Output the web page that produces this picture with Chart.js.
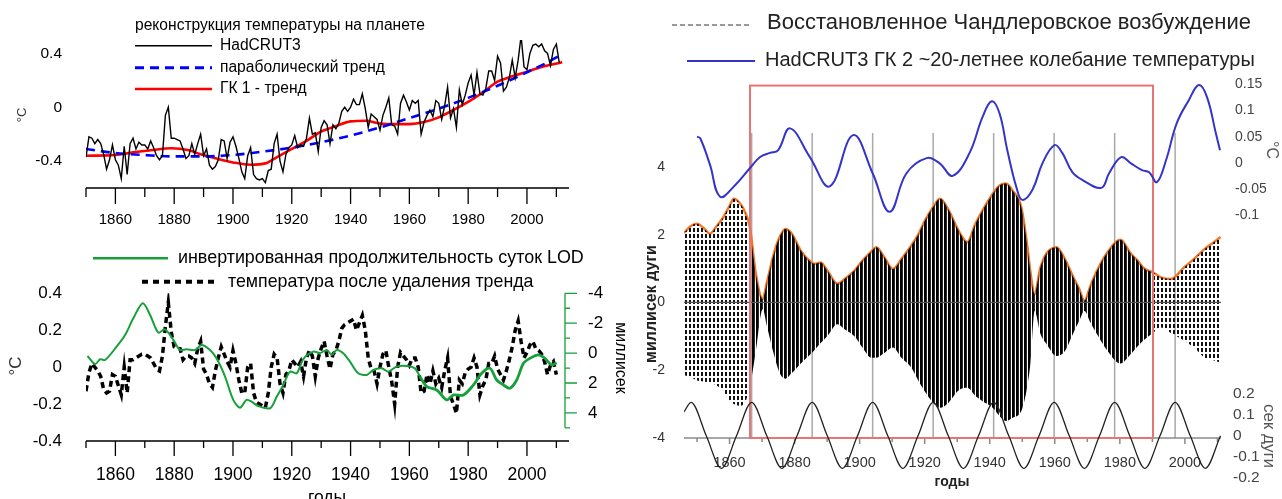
<!DOCTYPE html>
<html>
<head>
<meta charset="utf-8">
<script src="https://cdn.jsdelivr.net/npm/chart.js@4.4.1/dist/chart.umd.min.js"></script>
<style>
html, body { margin: 0; padding: 0; background: #fff; }
#wrap { position: relative; width: 1282px; height: 499px; overflow: hidden; }
#wrap canvas { position: absolute; left: 0; top: 0; }
</style>
</head>
<body>
<div id="wrap">
  <canvas id="temp" width="1282" height="499"></canvas>
  <canvas id="lod" width="1282" height="499"></canvas>
  <canvas id="chandler" width="1282" height="499"></canvas>
  <canvas id="nodal" width="1282" height="499"></canvas>
  <canvas id="pc2" width="1282" height="499"></canvas>
</div>
<script>
// ---------- top left: temperature reconstruction ----------
var hadYears = Array.from({length: 162}, function (_, i) { return 1850 + i; });
var hadTemp = [
  -0.37,-0.22,-0.23,-0.27,-0.24,-0.27,-0.35,-0.46,-0.39,-0.28,
  -0.39,-0.43,-0.53,-0.29,-0.50,-0.27,-0.23,-0.31,-0.26,-0.28,
  -0.28,-0.31,-0.25,-0.30,-0.36,-0.39,-0.36,-0.06,0.00,-0.23,
  -0.23,-0.24,-0.25,-0.31,-0.38,-0.36,-0.27,-0.35,-0.27,-0.20,
  -0.36,-0.31,-0.43,-0.46,-0.44,-0.39,-0.24,-0.25,-0.38,-0.26,
  -0.22,-0.29,-0.38,-0.48,-0.53,-0.36,-0.30,-0.50,-0.53,-0.54,
  -0.53,-0.56,-0.47,-0.46,-0.27,-0.20,-0.40,-0.48,-0.35,-0.30,
  -0.28,-0.21,-0.30,-0.28,-0.29,-0.23,-0.08,-0.20,-0.19,-0.33,
  -0.15,-0.10,-0.13,-0.27,-0.13,-0.16,-0.12,-0.03,0.00,-0.03,
  0.00,0.06,0.02,0.02,0.10,-0.01,-0.15,-0.05,-0.07,-0.09,
  -0.17,-0.06,0.00,0.07,-0.13,-0.14,-0.20,0.03,0.09,0.04,
  -0.02,0.05,0.03,0.05,-0.20,-0.11,-0.06,-0.02,-0.07,0.05,
  0.03,-0.09,0.01,0.15,-0.08,-0.01,-0.15,0.13,0.02,0.09,
  0.18,0.24,0.09,0.26,0.10,0.09,0.14,0.27,0.27,0.20,
  0.38,0.33,0.12,0.15,0.22,0.35,0.22,0.35,0.53,0.30,
  0.28,0.40,0.46,0.47,0.45,0.47,0.42,0.40,0.31,0.43,
  0.47,0.33
];
var parabYears = [1850,1860,1870,1880,1890,1900,1910,1920,1930,1940,1950,1960,1970,1980,1990,2000,2010,2012];
var parabTemp = [-0.31,-0.34,-0.355,-0.365,-0.365,-0.355,-0.33,-0.30,-0.26,-0.21,-0.15,-0.08,-0.01,0.07,0.16,0.26,0.37,0.40];
var pc1Years = [1850,1860,1866,1872,1879,1885,1889,1895,1900,1906,1911,1915,1920,1925,1930,1935,1940,1945,1950,1955,1960,1965,1970,1975,1980,1985,1990,1995,2000,2005,2012];
var pc1Temp = [-0.36,-0.355,-0.335,-0.32,-0.305,-0.32,-0.35,-0.385,-0.41,-0.427,-0.417,-0.37,-0.31,-0.25,-0.18,-0.14,-0.105,-0.10,-0.12,-0.125,-0.125,-0.11,-0.075,-0.02,0.04,0.11,0.19,0.23,0.265,0.30,0.335];

// ---------- bottom left: LOD and detrended temperature ----------
var lodYears = [1850.5,1853.1,1854.8,1856.5,1860.4,1863.3,1866.1,1869.3,1871.8,1874.6,
  1876.9,1879.7,1882,1884.2,1887.1,1889.3,1892.2,1894.4,1897.3,1900.1,
  1902.4,1904.6,1906.3,1908.6,1912.6,1914.9,1917.1,1919.4,1921.7,1923.9,
  1927.3,1929.6,1931.9,1933.6,1935.3,1937.5,1939.8,1942.6,1945.5,1947.7,
  1950.6,1952.8,1955.7,1959.1,1961.9,1963.6,1965.9,1969.3,1972.7,1975,
  1978.4,1981.8,1984.6,1987.4,1989.7,1992,1994.2,1996.5,1998.8,2001,
  2003.9,2006.1,2008.4,2010.1];
var lodMs = [0.19,0.73,0.41,0.46,-0.43,-1.21,-2.33,-3.33,-2.55,-1.37,
  -1.59,-0.88,-0.21,-0.25,-0.21,-0.54,-0.21,0.35,1.57,3.13,
  3.65,3.13,3.25,3.54,3.69,2.91,2.13,1.24,1.35,0.40,
  -0.10,0.0,-0.21,0.12,-0.21,0.01,0.57,1.35,1.46,1.13,
  1.02,1.24,0.90,0.86,1.02,1.57,2.24,2.47,3.13,2.8,
  2.8,2.13,1.35,1.02,1.8,2.13,2.35,1.8,0.68,0.35,
  0.12,0.35,0.79,0.64];
var detYears = Array.from({length: 161}, function (_, i) { return 1850 + i; });
var detTemp = [
  -0.13,-0.03,0.02,0.00,-0.02,-0.05,-0.12,-0.14,-0.13,-0.04,
  -0.05,-0.10,-0.15,0.00,-0.14,0.04,0.04,0.05,0.06,0.07,
  0.07,0.06,0.05,0.02,-0.01,-0.02,0.06,0.22,0.35,0.19,
  0.11,0.10,0.10,0.04,0.06,0.06,0.05,0.02,0.10,0.14,
  -0.01,-0.04,-0.09,-0.11,-0.02,0.05,0.11,0.07,0.03,0.00,
  0.09,0.02,-0.07,-0.14,-0.14,0.00,0.02,-0.14,-0.19,-0.20,
  -0.21,-0.22,-0.14,0.00,0.07,0.05,-0.09,-0.14,-0.04,-0.02,
  0.04,0.02,0.00,0.03,-0.05,0.05,0.09,0.06,-0.05,0.05,
  0.10,0.14,0.06,-0.01,0.07,0.09,0.14,0.21,0.23,0.24,
  0.25,0.26,0.20,0.24,0.28,0.20,0.05,-0.01,-0.02,-0.09,
  0.00,0.07,0.09,0.00,-0.08,-0.20,0.00,0.08,0.06,0.04,
  0.01,0.05,0.05,0.00,-0.14,-0.13,-0.04,-0.09,-0.02,-0.09,
  -0.06,-0.11,-0.02,0.05,-0.16,-0.20,-0.25,-0.07,-0.09,-0.03,
  -0.01,0.00,0.05,0.00,-0.15,-0.10,-0.07,0.02,0.02,0.06,
  -0.01,-0.04,-0.07,-0.02,0.04,0.11,0.20,0.25,0.14,0.05,
  0.08,0.12,0.14,0.10,0.09,0.07,0.03,-0.04,0.01,0.03,
  -0.04
];

// ---------- right: Chandler excitation ----------
var envYears = [1846,1848,1850,1852,1854,1856,1858,1860,1861.3,1863,
  1864.5,1866.3,1868,1870.2,1871.5,1873.6,1875.5,1877.2,1879,1881.9,
  1884.9,1886,1888,1890,1893.2,1895.5,1898.4,1901,1903.6,1905.1,
  1907.5,1910.2,1913,1915.9,1918,1920,1922.5,1924.7,1927.4,1930.4,
  1933.1,1935.5,1937.7,1940.9,1943,1945,1947,1949.7,1951.5,1952.5,
  1953.8,1955.5,1957.5,1960.5,1963,1965.7,1967.5,1969.1,1971,1973,
  1976,1980.2,1983.3,1985.4,1987.5,1990.2,1992.6,1995.7,1999.8,2003,
  2006.1,2008.5,2011];
var envUpper = [2.05,2.25,2.32,2.2,2.03,2.25,2.5,2.85,3.06,2.95,
  2.72,2.2,0.9,0.1,0.6,1.43,1.95,2.17,2.05,1.53,
  1.2,1.14,1.18,0.95,0.55,0.7,0.94,1.25,1.5,1.63,
  1.35,0.99,1.3,1.68,2.0,2.4,2.8,3.06,2.72,2.12,
  1.78,2.3,2.7,3.2,3.45,3.51,3.3,2.81,1.7,0.9,
  0.25,1.0,1.45,1.63,1.3,0.74,0.4,0.05,0.5,0.94,
  1.45,1.85,1.45,1.24,1.0,0.89,0.74,0.69,1.04,1.3,
  1.58,1.75,1.93];
var envLower = [-2.15,-2.2,-2.3,-2.33,-2.37,-2.45,-2.6,-2.9,-3.0,-3.05,
  -3.0,-2.5,-1.5,-0.2,-0.7,-1.52,-2.1,-2.25,-2.1,-1.8,
  -1.53,-1.42,-1.2,-1.0,-0.64,-0.8,-1.0,-1.35,-1.63,-1.63,
  -1.5,-1.33,-1.65,-1.93,-2.3,-2.62,-2.95,-3.11,-2.95,-2.6,
  -2.52,-2.75,-2.91,-3.11,-3.35,-3.5,-3.4,-3.2,-2.5,-1.8,
  -0.25,-0.9,-1.23,-1.58,-1.45,-0.9,-0.55,-0.25,-0.6,-0.94,
  -1.4,-1.8,-1.53,-1.3,-1.1,-0.9,-0.74,-0.9,-1.13,-1.35,
  -1.63,-1.7,-1.78];
var boxYears = [1866.3, 1990.2];
var boxTopMs = 6.4;
var nodalYears = [1866.8,1885.4,1904.0,1922.6,1941.2,1959.8,1978.4,1997.0];

var pc2Years = [1850,1851,1854,1857.1,1861.7,1866.3,1869.4,1872.4,1874.9,1878.6,
  1884.7,1890.8,1898,1904,1909.2,1914.4,1920.6,1924.6,1928.6,1933.8,
  1937.8,1940.6,1943,1945.4,1948.2,1950,1953.1,1956.2,1959.9,1962.3,
  1965.4,1968.5,1974.3,1976.7,1980.4,1983.4,1986.8,1989,1991.4,1994.2,
  1997.5,2001.2,2004.3,2006.8,2009.5,2010.8];
var pc2Temp = [0.050,0.047,-0.004,-0.065,-0.043,-0.010,0.011,0.019,0.024,0.066,
  0.011,-0.045,0.053,-0.020,-0.094,-0.020,0.009,-0.001,-0.025,0.019,
  0.088,0.118,0.095,0.024,-0.047,-0.071,-0.052,-0.001,0.034,0.019,
  -0.018,-0.033,-0.048,-0.020,0.011,-0.001,-0.014,-0.018,-0.037,0.005,
  0.076,0.120,0.149,0.126,0.057,0.024];

var sineYears = [1846.0,1848.2,1852.85,1857.5,1862.15,1866.8,1871.45,1876.1,1880.75,1885.4,
  1890.05,1894.7,1899.35,1904.0,1908.65,1913.3,1917.95,1922.6,1927.25,1931.9,
  1936.55,1941.2,1945.85,1950.5,1955.15,1959.8,1964.45,1969.1,1973.75,1978.4,
  1983.05,1987.7,1992.35,1997.0,2001.65,2006.3,2010.95];
var sineArc = [0.115,0.16,0,-0.155,0,0.16,0,-0.155,0,0.16,
  0,-0.155,0,0.16,0,-0.155,0,0.16,0,-0.155,
  0,0.16,0,-0.155,0,0.16,0,-0.155,0,0.16,
  0,-0.155,0,0.16,0,-0.155,0];

var names = {
  title1: 'реконструкция температуры на планете',
  had: 'HadCRUT3',
  parab: 'параболический тренд',
  pc1: 'ГК 1 - тренд',
  lod: 'инвертированная продолжительность суток LOD',
  det: 'температура после удаления тренда',
  chandler: 'Восстановленное Чандлеровское возбуждение',
  pc2: 'HadCRUT3 ГК 2 ~20-летнее колебание температуры'
};

var FONT = "'Liberation Sans', Arial, Helvetica, sans-serif";
Chart.defaults.font.family = FONT;
Chart.defaults.animation = false;

function pts(xs, ys) { return xs.map(function (x, i) { return {x: x, y: ys[i]}; }); }
function part(xs, ys, a, b) {
  var out = [];
  xs.forEach(function (x, i) { if (x >= a - 1e-9 && x <= b + 1e-9) out.push({x: x, y: ys[i]}); });
  return out;
}
function fixedTicks(vals) { return function (s) { s.ticks = vals.map(function (v) { return {value: v}; }); }; }
function fitW(w) { return function (s) { s.width = w; }; }
function fitH(h) { return function (s) { s.height = h; }; }
function numLabel(v) { return v === 0 ? '0' : String(+v.toFixed(2)); }
function yearLabel(v) { return String(v); }
function range(a, b, step) { var o = []; for (var v = a; v <= b + 1e-9; v += step) o.push(+v.toFixed(3)); return o; }

// tick marks and axis lines
var axisMarks = {
  id: 'axisMarks',
  afterDraw: function (chart, args, opts) {
    var ctx = chart.ctx, a = chart.chartArea;
    (opts.axes || []).forEach(function (ax) {
      var s = chart.scales[ax.scale];
      ctx.save();
      ctx.strokeStyle = ax.color;
      ctx.lineWidth = ax.width;
      ctx.beginPath();
      if (ax.side === 'bottom') {
        var y = a.bottom;
        ctx.moveTo(s.getPixelForValue(ax.from), y);
        ctx.lineTo(s.getPixelForValue(ax.to), y);
        [[ax.major, ax.majorLen], [ax.minor, ax.minorLen]].forEach(function (g) {
          g[0].forEach(function (v) { var x = s.getPixelForValue(v); ctx.moveTo(x, y); ctx.lineTo(x, y + g[1]); });
        });
      } else {
        var x = (ax.side === 'left' ? a.left : a.right) + (ax.shift || 0);
        var d = ax.side === 'left' ? -1 : 1;
        ctx.moveTo(x, s.getPixelForValue(ax.from));
        ctx.lineTo(x, s.getPixelForValue(ax.to));
        [[ax.major, ax.majorLen], [ax.minor, ax.minorLen]].forEach(function (g) {
          g[0].forEach(function (v) { var yy = s.getPixelForValue(v); ctx.moveTo(x, yy); ctx.lineTo(x + d * g[1], yy); });
        });
      }
      ctx.stroke();
      ctx.restore();
    });
  }
};

// legends and axis titles
var decor = {
  id: 'decor',
  afterDraw: function (chart, args, opts) {
    var ctx = chart.ctx;
    (opts.lines || []).forEach(function (l) {
      var ds = l.ds !== undefined ? chart.data.datasets[l.ds] : {};
      ctx.save();
      ctx.strokeStyle = l.color || ds.borderColor;
      ctx.lineWidth = l.width;
      ctx.setLineDash(l.dash || ds.borderDash || []);
      ctx.beginPath();
      ctx.moveTo(l.x1, l.y);
      ctx.lineTo(l.x2, l.y);
      ctx.stroke();
      ctx.restore();
    });
    (opts.texts || []).forEach(function (t) {
      ctx.save();
      ctx.font = (t.bold ? 'bold ' : '') + t.size + 'px ' + FONT;
      ctx.fillStyle = t.color || '#000';
      ctx.textBaseline = 'middle';
      ctx.textAlign = t.align || 'left';
      ctx.translate(t.x, t.y);
      if (t.rot) ctx.rotate(t.rot * Math.PI / 180);
      ctx.fillText(t.text, 0, 0);
      ctx.restore();
    });
  }
};

// nodal grid lines, zero line and red frame of the Chandler panel
var chandlerFrame = {
  id: 'chandlerFrame',
  beforeDatasetsDraw: function (chart) {
    var ctx = chart.ctx, a = chart.chartArea, x = chart.scales.x;
    ctx.save();
    ctx.strokeStyle = '#a9a9a9';
    ctx.lineWidth = 1.5;
    ctx.beginPath();
    nodalYears.forEach(function (yr) {
      var px = x.getPixelForValue(yr);
      ctx.moveTo(px, a.top);
      ctx.lineTo(px, a.bottom);
    });
    ctx.stroke();
    ctx.restore();
  },
  afterDatasetsDraw: function (chart) {
    var ctx = chart.ctx, a = chart.chartArea, y = chart.scales.y;
    ctx.save();
    ctx.strokeStyle = '#555';
    ctx.lineWidth = 1.2;
    ctx.beginPath();
    ctx.moveTo(a.left, y.getPixelForValue(0));
    ctx.lineTo(a.right, y.getPixelForValue(0));
    ctx.stroke();
    ctx.restore();
  },
  afterDraw: function (chart) {
    var ctx = chart.ctx, x = chart.scales.x, y = chart.scales.y;
    var l = x.getPixelForValue(boxYears[0]), r = x.getPixelForValue(boxYears[1]);
    var t = y.getPixelForValue(boxTopMs), b = y.getPixelForValue(-4);
    ctx.save();
    ctx.strokeStyle = '#e87474';
    ctx.lineWidth = 2;
    ctx.strokeRect(l, t, r - l, b - t);
    ctx.restore();
  }
};

function makePattern(w, h, paint) {
  var c = document.createElement('canvas');
  c.width = w; c.height = h;
  var g = c.getContext('2d');
  paint(g);
  return g.createPattern(c, 'repeat');
}
var solidStripes = makePattern(4, 1, function (g) {
  g.fillStyle = '#000'; g.fillRect(0, 0, 2, 1);
  g.fillStyle = '#2a2a2a'; g.fillRect(2, 0, 1, 1);
});
var dashStripes = makePattern(4, 6, function (g) {
  g.fillStyle = '#111'; g.fillRect(1, 0, 2, 4);
});

var noGrid = {display: false, drawTicks: false, tickLength: 0};
var noBorder = {display: false};
var base = {responsive: false, events: [], animation: false};

// ---------- chart 1 ----------
var xLab = range(1860, 2000, 20), xMinor = range(1850, 2010, 20);
new Chart(document.getElementById('temp'), {
  type: 'line',
  data: {datasets: [
    {label: names.had, data: pts(hadYears, hadTemp), borderColor: '#000', borderWidth: 1.4, pointRadius: 0, tension: 0},
    {label: names.parab, data: pts(parabYears, parabTemp), borderColor: '#0000ff', borderWidth: 2.6, borderDash: [9, 6], pointRadius: 0, cubicInterpolationMode: 'monotone'},
    {label: names.pc1, data: pts(pc1Years, pc1Temp), borderColor: '#ff0000', borderWidth: 2.6, pointRadius: 0, cubicInterpolationMode: 'monotone'}
  ]},
  options: Object.assign({}, base, {
    layout: {padding: {left: 0, top: 40, right: 713, bottom: 261}},
    plugins: {
      legend: {display: false}, tooltip: {enabled: false},
      axisMarks: {axes: [
        {scale: 'y', side: 'left', from: -0.6, to: 0.5, major: [-0.4, 0, 0.4], minor: [-0.2, 0.2], majorLen: 15, minorLen: 7, color: '#000', width: 1.3},
        {scale: 'x', side: 'bottom', from: 1850, to: 2014.3, major: xLab, minor: xMinor, majorLen: 16, minorLen: 9, color: '#000', width: 1.3}
      ]},
      decor: {
        lines: [
          {ds: 0, x1: 135, x2: 212, y: 45.7, width: 1.5},
          {ds: 1, x1: 135, x2: 212, y: 67.7, width: 3},
          {ds: 2, x1: 135, x2: 212, y: 89, width: 2.6}
        ],
        texts: [
          {text: names.title1, x: 135, y: 26, size: 15.6},
          {text: names.had, x: 220, y: 46, size: 15.6},
          {text: names.parab, x: 220, y: 68, size: 15.6},
          {text: names.pc1, x: 220, y: 89, size: 15.6},
          {text: '°C', x: 22, y: 115, size: 13, rot: -90, color: '#333', align: 'center'}
        ]
      }
    },
    scales: {
      x: {type: 'linear', min: 1850, max: 2014.3, afterFit: fitH(50), afterBuildTicks: fixedTicks(xLab),
        grid: noGrid, border: noBorder, ticks: {padding: 23, font: {size: 15}, color: '#000', callback: yearLabel}},
      y: {min: -0.6, max: 0.5, afterFit: fitW(86), afterBuildTicks: fixedTicks([-0.4, 0, 0.4]),
        grid: noGrid, border: noBorder, ticks: {padding: 24, font: {size: 15.5}, color: '#000', callback: numLabel}}
    }
  }),
  plugins: [axisMarks, decor]
});

// ---------- chart 2 ----------
new Chart(document.getElementById('lod'), {
  type: 'line',
  data: {datasets: [
    {label: names.lod, data: pts(lodYears, lodMs), yAxisID: 'y2', borderColor: '#16a03a', borderWidth: 2, pointRadius: 0, tension: 0.3,
      segment: {borderWidth: function (c) { return c.p0.parsed.x > 1962 ? 2.8 : 2; }}},
    {label: names.det, data: pts(detYears, detTemp), yAxisID: 'y', borderColor: '#000', borderWidth: 3.5, borderDash: [6, 4], pointRadius: 0, tension: 0}
  ]},
  options: Object.assign({}, base, {
    layout: {padding: {left: 0, top: 293.3, right: 653, bottom: 0}},
    plugins: {
      legend: {display: false}, tooltip: {enabled: false},
      axisMarks: {axes: [
        {scale: 'y', side: 'left', from: -0.4, to: 0.4, major: range(-0.4, 0.4, 0.2), minor: [-0.3, -0.1, 0.1, 0.3], majorLen: 17, minorLen: 7, color: '#000', width: 1.3},
        {scale: 'y2', side: 'right', shift: -4, from: -4, to: 5, major: range(-4, 4, 2), minor: range(-3, 5, 2), majorLen: 12, minorLen: 5, color: '#16a03a', width: 1.3},
        {scale: 'x', side: 'bottom', from: 1850, to: 2014.3, major: xLab, minor: xMinor, majorLen: 15, minorLen: 7, color: '#000', width: 1.3}
      ]},
      decor: {
        lines: [
          {ds: 0, x1: 93, x2: 168, y: 258.3, width: 2.5},
          {ds: 1, x1: 142, x2: 218, y: 281.7, width: 4, dash: [6, 5]}
        ],
        texts: [
          {text: names.lod, x: 178, y: 258, size: 17.9},
          {text: names.det, x: 228, y: 282, size: 17.8},
          {text: '°C', x: 16, y: 366, size: 17, rot: -90, color: '#333', align: 'center'},
          {text: 'миллисек', x: 620, y: 358, size: 16, rot: 90, align: 'center'},
          {text: 'годы', x: 327, y: 498, size: 17.5, align: 'center'}
        ]
      }
    },
    scales: {
      x: {type: 'linear', min: 1850, max: 2014.3, afterFit: fitH(58), afterBuildTicks: fixedTicks(xLab),
        grid: noGrid, border: noBorder, ticks: {padding: 24, font: {size: 17.5}, color: '#000', callback: yearLabel}},
      y: {min: -0.4, max: 0.4, afterFit: fitW(86), afterBuildTicks: fixedTicks(range(-0.4, 0.4, 0.2)),
        grid: noGrid, border: noBorder, ticks: {padding: 24, font: {size: 17}, color: '#000', callback: numLabel}},
      y2: {position: 'right', reverse: true, min: -4, max: 5.88, afterFit: fitW(60), afterBuildTicks: fixedTicks(range(-4, 4, 2)),
        grid: noGrid, border: noBorder, ticks: {padding: 19, font: {size: 17}, color: '#000', callback: numLabel}}
    }
  }),
  plugins: [axisMarks, decor]
});

// ---------- right panel: shared x range ----------
var RX = {min: 1846, max: 2011.1};
var L = {up: part(envYears, envUpper, RX.min, boxYears[0]), lo: part(envYears, envLower, RX.min, boxYears[0])};
var M = {up: part(envYears, envUpper, boxYears[0], boxYears[1]), lo: part(envYears, envLower, boxYears[0], boxYears[1])};
var R = {up: part(envYears, envUpper, boxYears[1], RX.max), lo: part(envYears, envLower, boxYears[1], RX.max)};
function band(data, fill, bg) {
  return {data: data, fill: fill, backgroundColor: bg, borderColor: 'rgba(0,0,0,0)', borderWidth: 0, pointRadius: 0, cubicInterpolationMode: 'monotone'};
}
var rLab = range(1860, 2000, 20), rMinor = range(1850, 2010, 20);

new Chart(document.getElementById('chandler'), {
  type: 'line',
  data: {datasets: [
    band(L.up, '+1', dashStripes), band(L.lo, false),
    band(M.up, '+1', solidStripes), band(M.lo, false),
    band(R.up, '+1', dashStripes), band(R.lo, false),
    {label: names.chandler, data: pts(envYears, envUpper), borderColor: '#f07a2c', borderWidth: 2.5, pointRadius: 0, fill: false, cubicInterpolationMode: 'monotone'}
  ]},
  options: Object.assign({}, base, {
    layout: {padding: {left: 630, top: 133, right: 61, bottom: 0}},
    plugins: {
      legend: {display: false}, tooltip: {enabled: false},
      axisMarks: {axes: [
        {scale: 'y', side: 'left', from: -4, to: 5, major: range(-4, 4, 2), minor: range(-3, 5, 2), majorLen: 9, minorLen: 5, color: '#8a8a8a', width: 1.5},
        {scale: 'x', side: 'bottom', from: RX.min, to: RX.max, major: rLab, minor: rMinor, majorLen: 6, minorLen: 4, color: '#8a8a8a', width: 1.5}
      ]},
      decor: {
        lines: [{x1: 672, x2: 752, y: 25, width: 1, color: '#333', dash: [5, 3]}],
        texts: [
          {text: names.chandler, x: 767, y: 23, size: 22, color: '#222'},
          {text: 'миллисек дуги', x: 652, y: 304, size: 16, bold: true, rot: -90, align: 'center', color: '#222'},
          {text: 'годы', x: 952, y: 482, size: 14, bold: true, align: 'center', color: '#222'}
        ]
      }
    },
    scales: {
      x: {type: 'linear', min: RX.min, max: RX.max, afterFit: fitH(61), afterBuildTicks: fixedTicks(rLab),
        grid: noGrid, border: noBorder, ticks: {padding: 16, font: {size: 14.5}, color: '#333', callback: yearLabel}},
      y: {min: -4, max: 5, afterFit: fitW(54), afterBuildTicks: fixedTicks(range(-4, 4, 2)),
        grid: noGrid, border: noBorder, ticks: {padding: 19, font: {size: 14}, color: '#333', callback: numLabel}}
    }
  }),
  plugins: [axisMarks, chandlerFrame, decor]
});

// nodal (~18.6 yr) oscillation, arc seconds
new Chart(document.getElementById('nodal'), {
  type: 'line',
  data: {datasets: [
    {label: 'сек дуги', data: pts(sineYears, sineArc), borderColor: '#222', borderWidth: 1.3, pointRadius: 0, cubicInterpolationMode: 'monotone'}
  ]},
  options: Object.assign({}, base, {
    layout: {padding: {left: 684, top: 394, right: 16, bottom: 16}},
    plugins: {
      legend: {display: false}, tooltip: {enabled: false},
      axisMarks: {axes: [
        {scale: 'y', side: 'right', from: -0.2, to: 0.2, major: range(-0.2, 0.2, 0.1), minor: range(-0.15, 0.15, 0.1), majorLen: 6, minorLen: 3, color: '#8a8a8a', width: 1.5}
      ]},
      decor: {texts: [{text: 'сек дуги', x: 1269, y: 436, size: 17, rot: 90, align: 'center', color: '#555'}]}
    },
    scales: {
      x: {type: 'linear', display: false, min: RX.min, max: RX.max},
      y: {position: 'right', min: -0.2, max: 0.2, afterFit: fitW(45), afterBuildTicks: fixedTicks(range(-0.2, 0.2, 0.1)),
        grid: noGrid, border: noBorder, ticks: {padding: 12, font: {size: 15.5}, color: '#444', callback: numLabel}}
    }
  }),
  plugins: [axisMarks, decor]
});

// HadCRUT3 PC2, deg C
new Chart(document.getElementById('pc2'), {
  type: 'line',
  data: {datasets: [
    {label: names.pc2, data: pts(pc2Years, pc2Temp), borderColor: '#3434c8', borderWidth: 2, pointRadius: 0, tension: 0.4}
  ]},
  options: Object.assign({}, base, {
    layout: {padding: {left: 684, top: 79.3, right: 16, bottom: 284}},
    plugins: {
      legend: {display: false}, tooltip: {enabled: false},
      axisMarks: {axes: [
        {scale: 'y', side: 'right', from: -0.1, to: 0.16, major: range(-0.1, 0.15, 0.05), minor: range(-0.075, 0.125, 0.05), majorLen: 6, minorLen: 3, color: '#8a8a8a', width: 1.5}
      ]},
      decor: {
        lines: [{ds: 0, x1: 687, x2: 755, y: 61, width: 2}],
        texts: [
          {text: names.pc2, x: 765, y: 60, size: 20, color: '#222'},
          {text: '°C', x: 1271, y: 150, size: 16, rot: 90, align: 'center', color: '#555'}
        ]
      }
    },
    scales: {
      x: {type: 'linear', display: false, min: RX.min, max: RX.max},
      y: {position: 'right', min: -0.1, max: 0.16, afterFit: fitW(45), afterBuildTicks: fixedTicks(range(-0.1, 0.15, 0.05)),
        grid: noGrid, border: noBorder, ticks: {padding: 14, font: {size: 14}, color: '#444', callback: numLabel}}
    }
  }),
  plugins: [axisMarks, decor]
});
</script>
</body>
</html>
